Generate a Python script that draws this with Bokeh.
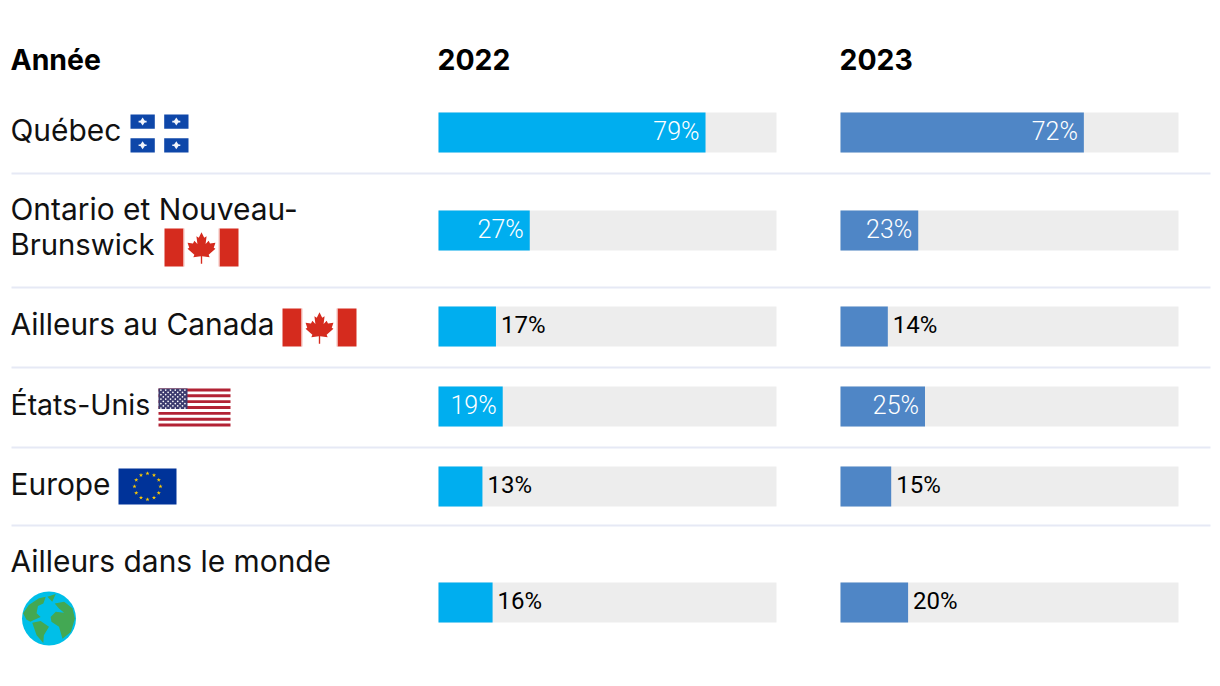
import math
from bokeh.plotting import figure
from bokeh.core.properties import value
from bokeh.embed import file_html
from bokeh.resources import INLINE

header_label = "Année"
years = ["2022", "2023"]
regions = ["Québec", "Ontario et Nouveau-Brunswick", "Ailleurs au Canada", "États-Unis", "Europe", "Ailleurs dans le monde"]
values_2022 = [79, 27, 17, 19, 13, 16]
values_2023 = [72, 23, 14, 25, 15, 20]
inside_2022 = [True, True, False, True, False, False]
inside_2023 = [True, True, False, True, False, False]

FONT = "Inter"
VFONT = "Roboto Light"
LABEL_DY = -11.5
HEAD_DY = -11
VALUE_DY = -10
C22, C23, TRACK, RULE = "#00aeef", "#4f86c6", "#ededed", "#e6e9f5"
row_y = [132, 230, 326, 406, 486, 602]
rule_y = [173, 287, 367, 447, 525]
label_lines = [[("Québec", 141, 29.9)], [("Ontario et Nouveau-", 220, 29.9), ("Brunswick", 255, 29.3)],
               [("Ailleurs au Canada", 335, 29.9)], [("États-Unis", 415, 28.5)], [("Europe", 495, 29.9)],
               [("Ailleurs dans le monde", 572, 29.9)]]
origins = [438, 840]
SCALE = 3.38
BAR_H = 40

p = figure(width=1216, height=680, x_range=(0, 1216), y_range=(680, 0), toolbar_location=None,
           output_backend="svg", x_axis_type=None, y_axis_type=None, min_border=0,
           outline_line_color=None, background_fill_color="white", border_fill_color="white")
p.grid.visible = False

def txt(x, y, s, size=28, color="#111111", style="normal", align="left", font=FONT):
    p.text([x], [y], text=[s], text_font=value(font), text_font_size=f"{size}px", text_color=color,
           text_font_style=style, text_align=align, text_baseline="alphabetic")

txt(10, 70 + HEAD_DY, header_label, 28.4, "#000000", "bold")
for o, yr in zip(origins, years):
    txt(o - 1, 70 + HEAD_DY, yr, 28.4, "#000000", "bold")
for lines in label_lines:
    for s, y, size in lines:
        txt(10, y + LABEL_DY, s, size)
for y in rule_y:
    p.line([11, 1210], [y, y], line_color=RULE, line_width=2)

for o, vals, flags, col in zip(origins, [values_2022, values_2023], [inside_2022, inside_2023], [C22, C23]):
    for y, v in zip(row_y, vals):
        p.quad(left=[o], right=[o + 100 * SCALE], top=[y - BAR_H / 2], bottom=[y + BAR_H / 2], fill_color=TRACK, line_color=None)
        p.quad(left=[o], right=[o + v * SCALE], top=[y - BAR_H / 2], bottom=[y + BAR_H / 2], fill_color=col, line_color=None)
    for y, v, inside in zip(row_y, vals, flags):
        right = o + v * SCALE
        if inside:
            txt(right - 6, y + 8.5 + VALUE_DY, f"{v}%", 25, "#ffffff", "normal", "right", VFONT)
        else:
            txt(right + 5, y + 8.5 + VALUE_DY, f"{v}%", 24, "#000000", "normal", "left", "Roboto")

def rect(x0, y0, x1, y1, c):
    p.quad(left=[x0], right=[x1], top=[y0], bottom=[y1], fill_color=c, line_color=None)

def quebec(x, y):
    b = "#0e47a9"
    rect(x, y, x + 58, y + 38, "#ffffff")
    for ax in (x, x + 33.7):
        for ay in (y, y + 23.7):
            rect(ax, ay, ax + 24.3, ay + 14.3, b)
            cx, cy = ax + 12.1, ay + 7.1
            p.scatter([cx], [cy], marker="diamond", size=8, fill_color="#f2f5fb", line_color=None)
            p.rect([cx], [cy], width=8, height=1.6, fill_color="#f2f5fb", line_color=None)

LEAF = [(0, 1), (.16, .68), (.3, .76), (.24, .3), (.42, .5), (.5, .33), (.82, .38), (.72, .08), (.82, .02),
        (.42, -.32), (.48, -.48), (.04, -.42), (.04, -.85)]

def canada(x, y):
    r = "#d52b1e"
    rect(x, y, x + 19, y + 38, r)
    rect(x + 55, y, x + 74, y + 38, r)
    rect(x + 19, y, x + 20, y + 38, "#f3bdb8")
    rect(x + 54, y, x + 55, y + 38, "#f3bdb8")
    cx, cy, s = x + 37, y + 20.7, 17
    pts = LEAF + [(-a, b) for a, b in reversed(LEAF)]
    p.patch([cx + a * s for a, b in pts], [cy - b * s for a, b in pts], fill_color=r, line_color=None)

def usa(x, y):
    w, h = 72, 38
    rect(x, y, x + w, y + h, "#ffffff")
    sh = h / 13
    for i in range(0, 13, 2):
        rect(x, y + i * sh, x + w, y + (i + 1) * sh, "#b22234")
    rect(x, y, x + 29, y + 7 * sh, "#3c3b6e")
    xs, ys = [], []
    for j in range(9):
        n = 6 if j % 2 == 0 else 5
        for i in range(n):
            xs.append(x + 2.4 + i * 4.8 + (0 if j % 2 == 0 else 2.4))
            ys.append(y + 1.6 + j * 2.25)
    p.scatter(xs, ys, marker="circle", size=1.7, fill_color="#ffffff", line_color=None)

def europe(x, y):
    rect(x, y, x + 58, y + 36, "#003399")
    cx, cy, r = x + 29, y + 18, 13
    xs = [cx + r * math.sin(i * math.pi / 6) for i in range(12)]
    ys = [cy - r * math.cos(i * math.pi / 6) for i in range(12)]
    p.scatter(xs, ys, marker="star", size=4.5, fill_color="#ffcc00", line_color=None)

CONTINENTS = [
    [(-.96, .19), (-.75, .5), (-.37, .75), (-.12, .81), (-.21, .56), (-.41, .46), (-.46, .19), (-.31, .06), (-.56, -.06), (-.69, -.12), (-.84, -.04)],
    [(-.62, -.16), (-.31, -.09), (0, -.31), (-.19, -.62), (-.21, -.91), (-.46, -.62)],
    [(.21, .56), (.56, .62), (.87, .38), (.96, 0), (.81, -.5), (.5, -.75), (.37, -.31), (.09, -.12), (.06, .06), (.25, .25), (.56, .21), (.37, .37)],
    [(-.06, .81), (.25, .91), (.12, .62)],
]

def globe(cx, cy, r):
    p.ellipse([cx], [cy], width=2 * r, height=2 * r, fill_color="#00bfe8", line_color=None)
    for c in CONTINENTS:
        p.patch([cx + a * r for a, b in c], [cy - b * r for a, b in c], fill_color="#43a853", line_color=None)

quebec(130, 114)
canada(164, 228)
canada(282, 308)
usa(158, 388)
europe(118, 468)
globe(48.5, 618, 27)

open("out.html", "w").write(file_html(p, INLINE))
